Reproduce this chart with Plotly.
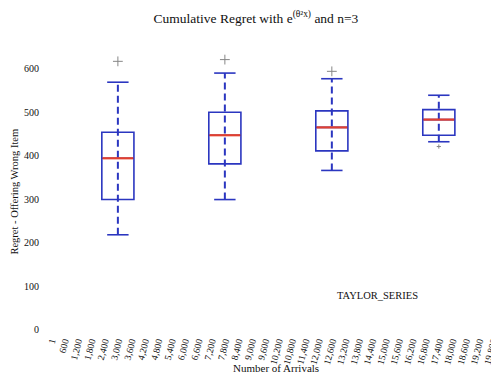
import plotly.graph_objects as go

# ---- data ----
tick_labels = ["1", "600", "1,200", "1,800", "2,400", "3,000", "3,600", "4,200",
               "4,800", "5,400", "6,000", "6,600", "7,200", "7,800", "8,400",
               "9,000", "9,600", "10,200", "10,800", "11,400", "12,000", "12,600",
               "13,200", "13,800", "14,400", "15,000", "15,600", "16,200", "16,800",
               "17,400", "18,000", "18,600", "19,200", "19,800"]
box_arrivals = ["3,000", "7,800", "12,600", "17,400"]
lower_whisker = [218, 299, 366, 432]
q1_values = [299, 381, 411, 447]
median_values = [394, 447, 465, 483]
q3_values = [454, 500, 503, 506]
upper_whisker = [569, 590, 577, 539]
outlier_box = ["3,000", "7,800", "12,600", "17,400"]
outlier_values = [617, 621, 594, 421]
y_ticks = [0, 100, 200, 300, 400, 500, 600]

# ---- styles ----
BLUE = "#2b36c0"
RED = "#e2402f"
SERIF = "Liberation Serif, Times New Roman, serif"
BOX_W = 2.4
CAP_W = 1.6
OUTLIER_SIZES = [7, 7, 7, 3]

pos = [tick_labels.index(a) for a in box_arrivals]
opos = [tick_labels.index(a) for a in outlier_box]

fig = go.Figure()

# boxes (quartiles only)
fig.add_trace(go.Box(
    x=pos, q1=q1_values, median=median_values, q3=q3_values,
    lowerfence=q1_values, upperfence=q3_values,
    width=BOX_W, whiskerwidth=0,
    fillcolor="rgba(0,0,0,0)", line=dict(color=BLUE, width=1.6),
    boxpoints=False, showlegend=False, hoverinfo="skip"))

# dashed whiskers
wx, wy = [], []
for p, lo, hi in zip(pos, lower_whisker, upper_whisker):
    wx += [p, p, None]
    wy += [lo, hi, None]
fig.add_trace(go.Scatter(x=wx, y=wy, mode="lines",
                         line=dict(color=BLUE, width=2, dash="7px,4px"),
                         showlegend=False, hoverinfo="skip"))

# whisker caps
cx, cy = [], []
for p, lo, hi in zip(pos, lower_whisker, upper_whisker):
    cx += [p - CAP_W / 2, p + CAP_W / 2, None, p - CAP_W / 2, p + CAP_W / 2, None]
    cy += [hi, hi, None, lo, lo, None]
fig.add_trace(go.Scatter(x=cx, y=cy, mode="lines",
                         line=dict(color=BLUE, width=1.6),
                         showlegend=False, hoverinfo="skip"))

# red medians
mx, my = [], []
for p, m in zip(pos, median_values):
    mx += [p - BOX_W / 2 + 0.05, p + BOX_W / 2 - 0.05, None]
    my += [m, m, None]
fig.add_trace(go.Scatter(x=mx, y=my, mode="lines",
                         line=dict(color=RED, width=2.2),
                         showlegend=False, hoverinfo="skip"))

# outliers
fig.add_trace(go.Scatter(x=opos, y=outlier_values, mode="markers",
                         marker=dict(symbol="cross-thin", size=OUTLIER_SIZES,
                                     line=dict(color="#555555", width=1)),
                         showlegend=False, hoverinfo="skip"))

# page body has an 8px margin, so the figure is 8px smaller than the window
fig.update_layout(
    width=491, height=369,
    margin=dict(l=37, r=0, t=39, b=44),
    paper_bgcolor="white", plot_bgcolor="white",
    font=dict(family=SERIF, color="#111111"),
    title=dict(text="Cumulative Regret with e<sup>(θ²x)</sup> and n=3",
               x=0.505, xanchor="center", y=0.972, yanchor="middle",
               font=dict(family=SERIF, size=13.5, color="#111111")),
    xaxis=dict(range=[-0.45, 33.5], tickmode="array",
               tickvals=list(range(len(tick_labels))), ticktext=tick_labels,
               tickangle=-75, tickfont=dict(family=SERIF, size=9.5, color="#111111"),
               showgrid=False, zeroline=False, showline=False, ticks="",
               ticklabelstandoff=0, ticklabeloverflow="allow", automargin=False),
    yaxis=dict(range=[-8, 650], tickmode="array", tickvals=y_ticks,
               tickfont=dict(family=SERIF, size=10, color="#111111"),
               showgrid=False, zeroline=False, showline=False, ticks="",
               ticklabelstandoff=5, ticklabeloverflow="allow", automargin=False),
    annotations=[
        dict(text="Number of Arrivals", xref="paper", yref="paper",
             x=0.509, y=-0.121, xanchor="center", yanchor="middle",
             showarrow=False, font=dict(family=SERIF, size=11, color="#111111")),
        dict(text="Regret - Offering Wrong Item", xref="paper", yref="paper",
             x=-0.068, y=0.495, xanchor="center", yanchor="middle", textangle=-90,
             showarrow=False, font=dict(family=SERIF, size=10.5, color="#111111")),
        dict(text="TAYLOR_SERIES", xref="paper", yref="paper",
             x=0.733, y=0.131, xanchor="center", yanchor="middle",
             showarrow=False, font=dict(family=SERIF, size=10.5, color="#111111")),
    ],
)

fig.write_html("out.html")
